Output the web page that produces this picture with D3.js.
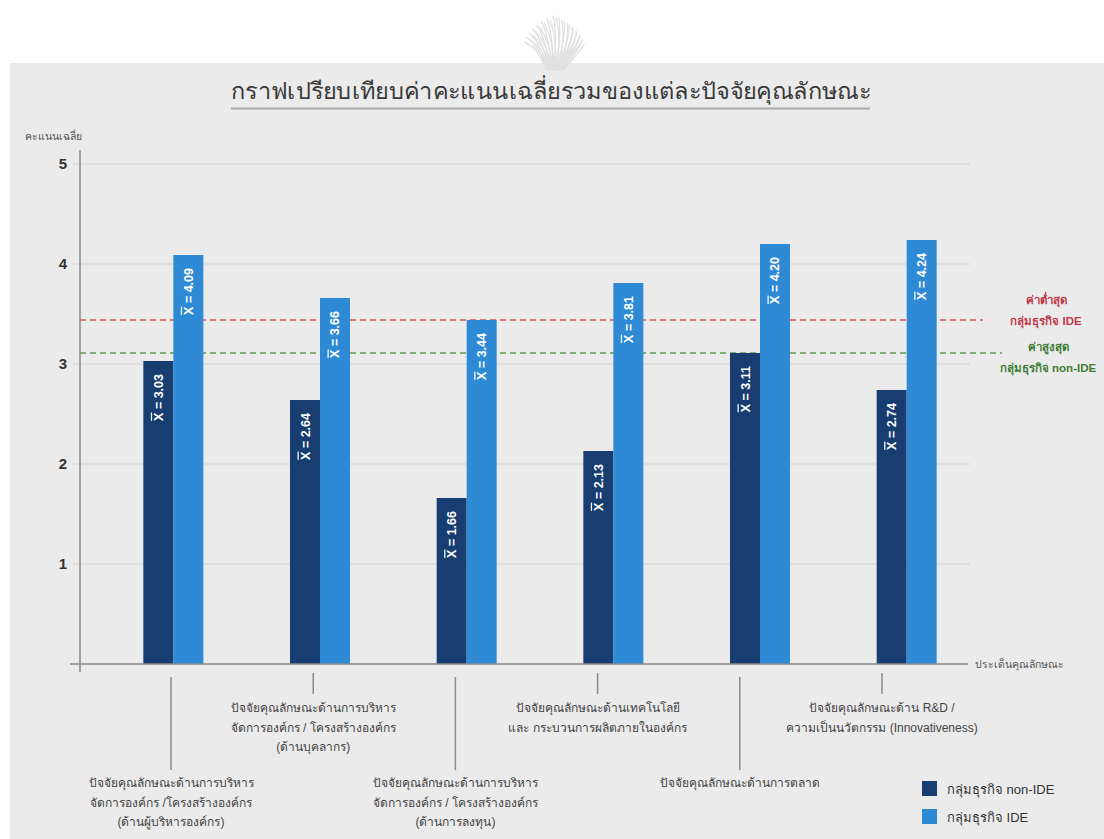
<!DOCTYPE html>
<html lang="th">
<head>
<meta charset="utf-8">
<script src="https://cdn.jsdelivr.net/npm/d3@7"></script>
<style>
  html, body { margin: 0; padding: 0; background: #ffffff; }
  svg { display: block; }
  text { font-family: "Liberation Sans", "Noto Sans", Arial, sans-serif; }
</style>
</head>
<body>
<svg id="chart" width="1104" height="839"></svg>
<script>
// Average score of each characteristic factor, non-IDE vs IDE business groups
const categories = [
  ["ปัจจัยคุณลักษณะด้านการบริหาร", "จัดการองค์กร /โครงสร้างองค์กร", "(ด้านผู้บริหารองค์กร)"],
  ["ปัจจัยคุณลักษณะด้านการบริหาร", "จัดการองค์กร / โครงสร้างองค์กร", "(ด้านบุคลากร)"],
  ["ปัจจัยคุณลักษณะด้านการบริหาร", "จัดการองค์กร / โครงสร้างองค์กร", "(ด้านการลงทุน)"],
  ["ปัจจัยคุณลักษณะด้านเทคโนโลยี", "และ กระบวนการผลิตภายในองค์กร"],
  ["ปัจจัยคุณลักษณะด้านการตลาด"],
  ["ปัจจัยคุณลักษณะด้าน R&D /", "ความเป็นนวัตกรรม (Innovativeness)"]
];
const seriesNames = ["กลุ่มธุรกิจ non-IDE", "กลุ่มธุรกิจ IDE"];
const nonIDE = [3.03, 2.64, 1.66, 2.13, 3.11, 2.74];
const IDE = [4.09, 3.66, 3.44, 3.81, 4.20, 4.24];
const yTicks = [1, 2, 3, 4, 5];
// Reference levels: lowest IDE score and highest non-IDE score
const refLines = [
  { value: 3.44, lines: ["ค่าต่ำสุด", "กลุ่มธุรกิจ IDE"], stroke: "#d4555a", color: "#c0394a", end: 983 },
  { value: 3.11, lines: ["ค่าสูงสุด", "กลุ่มธุรกิจ non-IDE"], stroke: "#5f9a52", color: "#3d7d35", end: 1002 }
];
// Category labels alternate between a long and a short leader line
const labelStagger = ["low", "high", "low", "high", "low", "high"];

const colors = ["#173d71", "#2f8ad6"];
const title = "กราฟเปรียบเทียบค่าคะแนนเฉลี่ยรวมของแต่ละปัจจัยคุณลักษณะ";

const svg = d3.select("#chart");

// Panel background
svg.append("rect").attr("x", 10).attr("y", 63).attr("width", 1094).attr("height", 776).attr("fill", "#ebebeb");

// Faint emblem above the panel
const emblem = svg.append("g").attr("transform", "translate(553,70)").attr("fill", "none")
  .attr("stroke", "#e0e0e0").attr("stroke-width", 1.3).attr("stroke-linecap", "round");
d3.range(-7, 8).forEach(i => {
  const a = i * 0.11;
  const len = 54 - Math.abs(i) * 2.2;
  const bx = Math.sin(a) * 10;
  emblem.append("path")
    .attr("d", `M${bx},0 Q${bx + Math.sin(a) * len * 0.5 + 5},${-len * 0.6} ${Math.sin(a) * len * 1.05},${-Math.cos(a) * len}`);
  emblem.append("path")
    .attr("d", `M${bx + 3},0 Q${bx + Math.sin(a) * len * 0.5 + 9},${-len * 0.55} ${Math.sin(a) * len * 1.05 + 3},${-Math.cos(a) * len + 2}`);
});

// Title with underline
svg.append("text")
  .attr("x", 551).attr("y", 99)
  .attr("text-anchor", "middle")
  .attr("font-size", 23)
  .attr("fill", "#3a3a3a")
  .attr("textLength", 640)
  .attr("lengthAdjust", "spacingAndGlyphs")
  .text(title);
svg.append("line").attr("x1", 231).attr("x2", 870).attr("y1", 108.5).attr("y2", 108.5)
  .attr("stroke", "#a9a9a9").attr("stroke-width", 2);

// Scales
const x0 = d3.scaleBand().domain(d3.range(categories.length)).range([100, 980]).paddingInner(0.591).paddingOuter(0.2955);
const x1 = d3.scaleBand().domain([0, 1]).range([0, x0.bandwidth()]);
const y = d3.scaleLinear().domain([0, 5]).range([664, 164]);
const labelX = d3.scalePoint().domain(d3.range(categories.length)).range([171, 882]);

// Grid lines and y ticks
const grid = svg.append("g");
grid.selectAll("line").data(yTicks).join("line")
  .attr("x1", 73).attr("x2", 970)
  .attr("y1", d => y(d)).attr("y2", d => y(d))
  .attr("stroke", "#d3d3d3").attr("stroke-width", 1.2);
svg.append("g").selectAll("text").data(yTicks).join("text")
  .attr("x", 67).attr("y", d => y(d) + 5)
  .attr("text-anchor", "end")
  .attr("font-size", 15).attr("font-weight", "bold").attr("fill", "#333")
  .text(d => d);

svg.append("text").attr("x", 53).attr("y", 140).attr("text-anchor", "middle")
  .attr("font-size", 10.5).attr("fill", "#555").text("คะแนนเฉลี่ย");

// Reference lines
refLines.forEach(r => {
  svg.append("line").attr("x1", 80).attr("x2", r.end)
    .attr("y1", y(r.value)).attr("y2", y(r.value))
    .attr("stroke", r.stroke).attr("stroke-width", 1.6).attr("stroke-dasharray", "6,4");
});

// Bars
const groups = svg.append("g").selectAll("g").data(categories.map((c, i) => i)).join("g")
  .attr("transform", i => `translate(${x0(i)},0)`);
const barData = i => [nonIDE[i], IDE[i]].map((v, s) => ({ v, s }));
groups.selectAll("rect").data(barData).join("rect")
  .attr("x", d => x1(d.s)).attr("width", x1.bandwidth())
  .attr("y", d => y(d.v)).attr("height", d => y(0) - y(d.v))
  .attr("fill", d => colors[d.s]);

// Value labels, rotated inside the bar tops
const vl = groups.selectAll("text").data(barData).join("text")
  .attr("transform", d => `translate(${x1(d.s) + x1.bandwidth() / 2 + 4.5},${y(d.v) + 13}) rotate(-90)`)
  .attr("text-anchor", "end")
  .attr("font-size", 12.5).attr("font-weight", "bold").attr("fill", "#ffffff");
vl.append("tspan").style("text-decoration", "overline").text("X");
vl.append("tspan").text(d => " = " + d.v.toFixed(2));

// Axes
svg.append("line").attr("x1", 80).attr("x2", 80).attr("y1", 150).attr("y2", 672)
  .attr("stroke", "#8a8a8a").attr("stroke-width", 1.5);
svg.append("line").attr("x1", 70).attr("x2", 968).attr("y1", 664).attr("y2", 664)
  .attr("stroke", "#8a8a8a").attr("stroke-width", 1.5);
svg.append("text").attr("x", 975).attr("y", 668).attr("font-size", 10.5).attr("fill", "#555")
  .text("ประเด็นคุณลักษณะ");

// Category labels with leader lines
const cat = svg.append("g").selectAll("g").data(categories.map((c, i) => i)).join("g")
  .attr("transform", i => `translate(${labelX(i)},0)`);
cat.append("line")
  .attr("x1", 0).attr("x2", 0)
  .attr("y1", i => labelStagger[i] === "low" ? 677 : 673)
  .attr("y2", i => labelStagger[i] === "low" ? 770 : 694)
  .attr("stroke", "#8a8a8a").attr("stroke-width", 1.5);
cat.append("text")
  .attr("text-anchor", "middle")
  .attr("font-size", 12).attr("fill", "#444")
  .selectAll("tspan").data(i => categories[i].map((t, k) => ({ t, k, i }))).join("tspan")
  .attr("x", 0)
  .attr("y", d => (labelStagger[d.i] === "low" ? 787 : 712) + d.k * 19.5)
  .text(d => d.t);

// Reference line captions
refLines.forEach((r, k) => {
  svg.append("g").selectAll("text").data(r.lines).join("text")
    .attr("x", 1046 + (k === 1 ? 2 : 0)).attr("y", (d, j) => (k === 0 ? 304 : 351) + j * 21)
    .attr("text-anchor", "middle")
    .attr("font-size", 11.5).attr("font-weight", "bold").attr("fill", r.color)
    .text(d => d);
});

// Legend
const legend = svg.append("g").selectAll("g").data(seriesNames).join("g")
  .attr("transform", (d, i) => `translate(922,${781 + i * 28})`);
legend.append("rect").attr("width", 15).attr("height", 15).attr("fill", (d, i) => colors[i]);
legend.append("text").attr("x", 25).attr("y", 12.5).attr("font-size", 13).attr("fill", "#333").text(d => d);
</script>
</body>
</html>
